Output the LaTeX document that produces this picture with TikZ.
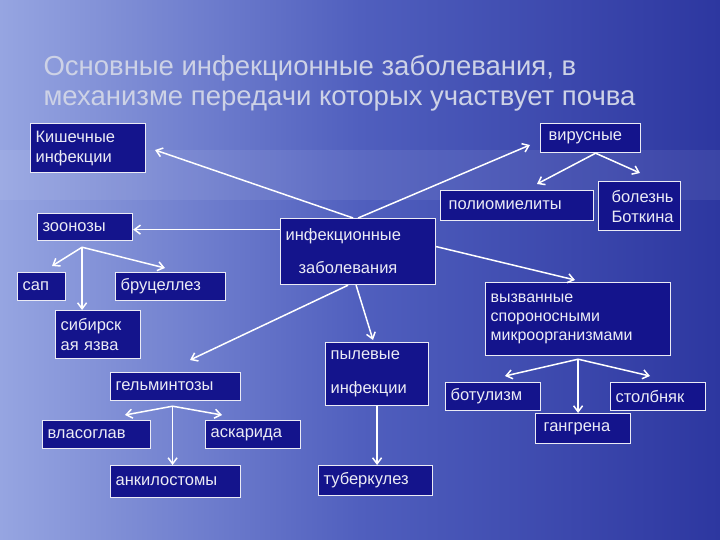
\documentclass[tikz,border=0pt]{standalone}
\usepackage{fontspec}
\setmainfont{Liberation Sans}
\usetikzlibrary{arrows.meta}
\definecolor{bgL}{RGB}{150,165,225}
\definecolor{bgM}{RGB}{80,95,190}
\definecolor{bgR}{RGB}{45,55,160}
\definecolor{boxc}{RGB}{20,20,140}
\definecolor{txt}{RGB}{235,235,245}
\definecolor{ttl}{RGB}{205,210,230}
\begin{document}
\begin{tikzpicture}[x=1pt,y=-1pt,
  bx/.style={draw=txt,line width=1.2pt,fill=boxc,text=txt,font=\fontsize{16.5}{20}\selectfont,align=left,anchor=north west,inner xsep=5pt,inner ysep=3pt},
  tw/.style={text width=#1-10pt},
  ar/.style={draw=white,line width=1.5pt,-{Straight Barb[length=6pt,width=9pt]}}]
\useasboundingbox (0,0) rectangle (720,540);
\shade[left color=bgL,right color=bgR,middle color=bgM] (0,0) rectangle (720,540);
\fill[white,opacity=0.07] (0,150) rectangle (720,200);
\node[anchor=west,text=ttl,font=\fontsize{27.5}{30}\selectfont,align=left] (title) at (40,83) {Основные инфекционные заболевания, в\\механизме передачи которых участвует почва};
\node[bx,tw=115,minimum height=49] (kish) at (30,123) {Кишечные\\инфекции};
\node[bx,tw=100,minimum height=29] (vir) at (540,123) {\hspace*{3pt}вирусные};
\node[bx,tw=153,minimum height=30] (polio) at (440,190) {\hspace*{3pt}полиомиелиты};
\node[bx,tw=82,minimum height=49] (bot) at (598,181) {\hspace*{8pt}болезнь\\\hspace*{8pt}Боткина};
\node[bx,tw=95,minimum height=27] (zoo) at (37,213) {зоонозы};
\node[bx,tw=155,minimum height=66,font=\fontsize{16.5}{33}\selectfont] (inf) at (280,218) {инфекционные\\ \hspace*{13pt}заболевания};
\node[bx,tw=48,minimum height=28] (sap) at (17,272) {сап};
\node[bx,tw=110,minimum height=28] (bru) at (115,272) {бруцеллез};
\node[bx,tw=85,minimum height=48] (sib) at (55,310) {сибирск\\ая язва};
\node[bx,tw=185,minimum height=73,font=\fontsize{16}{19}\selectfont] (vyz) at (485,282) {вызванные\\спороносными\\микроорганизмами};
\node[bx,tw=103,minimum height=63,font=\fontsize{16.5}{34}\selectfont] (pyl) at (325,342) {пылевые\\инфекции};
\node[bx,tw=130,minimum height=28] (gel) at (110,372) {гельминтозы};
\node[bx,tw=95,minimum height=28] (btl) at (445,382) {ботулизм};
\node[bx,tw=95,minimum height=28] (stb) at (610,382) {столбняк};
\node[bx,tw=95,minimum height=30] (gan) at (535,413) {\hspace*{3pt}гангрена};
\node[bx,tw=108,minimum height=28] (vla) at (42,420) {власоглав};
\node[bx,tw=95,minimum height=28] (ask) at (205,420) {аскарида};
\node[bx,tw=114,minimum height=30] (tub) at (318,465) {туберкулез};
\node[bx,tw=130,minimum height=32] (ank) at (110,465) {анкилостомы};
% arrows
\draw[ar] (inf.north) ++(-5,0) -- (155,150);
\draw[ar] (inf.north) -- (530,145);
\draw[ar] (inf.west) ++(0,-22) coordinate (c1) -- (zoo.east |- c1);
\draw[ar] (inf.east) ++(0,-5) -- (575,280);
\draw[ar] (inf.south) ++(-10,0) -- (190,360);
\draw[ar] (inf.south) ++(-2,0) -- (373,340);
\draw[ar] (pyl.south) -- (pyl.south |- tub.north);
\draw[ar] (vir.south) ++(5,0) coordinate (v) -- (537,184);
\draw[ar] (v) -- (640,173);
\draw[ar] (zoo.south) ++(-3,6) coordinate (z) -- (52,266);
\draw[ar] (z) -- (z |- sib.north);
\draw[ar] (z) -- (165,268);
\draw[ar] (gel.south) ++(-3,5) coordinate (g) -- (125,415);
\draw[ar] (g) -- (g |- ank.north);
\draw[ar] (g) -- (222,415);
\draw[ar] (vyz.south) ++(0,3) coordinate (w) -- (505,376);
\draw[ar] (w) -- (w |- gan.north);
\draw[ar] (w) -- (650,376);
\end{tikzpicture}
\end{document}
